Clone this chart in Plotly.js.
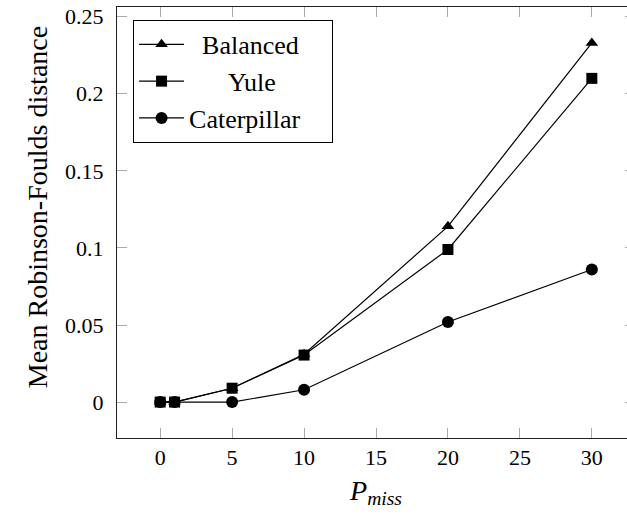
<!DOCTYPE html>
<html>
<head>
<meta charset="utf-8">
<script src="https://cdn.plot.ly/plotly-3.0.1.min.js"></script>
<style>
html, body { margin: 0; padding: 0; overflow: hidden; background: #fff; }
#chart { width: 645px; height: 520px; }
</style>
</head>
<body>
<div id="chart"></div>
<script>
var pMiss = [0, 1, 5, 10, 20, 30];
var balanced = [0, 0, 0.009, 0.031, 0.114, 0.233];
var yule = [0, 0, 0.009, 0.0305, 0.099, 0.21];
var caterpillar = [0, 0, 0, 0.008, 0.052, 0.086];

var xTickVals = [0, 5, 10, 15, 20, 25, 30];
var yTickVals = [0, 0.05, 0.1, 0.15, 0.2, 0.25];
var yTickText = ['0', '0.05', '0.1', '0.15', '0.2', '0.25'];

var NB = '\u00a0';
function pad(n) { return new Array(n + 1).join(NB); }

var lineStyle = { color: '#000', width: 1.2 };
var traces = [
  { x: pMiss, y: balanced, name: pad(2) + 'Balanced', mode: 'lines+markers', line: lineStyle,
    marker: { symbol: 'triangle-up', size: 11, color: '#000' } },
  { x: pMiss, y: yule, name: pad(6) + 'Yule', mode: 'lines+markers', line: lineStyle,
    marker: { symbol: 'square', size: 11, color: '#000' } },
  { x: pMiss, y: caterpillar, name: 'Caterpillar' + pad(4), mode: 'lines+markers', line: lineStyle,
    marker: { symbol: 'circle', size: 12, color: '#000' } }
];

var fam = 'Liberation Serif, serif';
function f(sz) { return { family: fam, size: sz, color: '#000' }; }

var layout = {
  width: 645, height: 520,
  margin: { l: 117, r: 10, t: 7, b: 82 },
  paper_bgcolor: '#fff', plot_bgcolor: '#fff',
  font: f(22),
  showlegend: true,
  legend: {
    x: 0.031, y: 0.97, xanchor: 'left', yanchor: 'top',
    bordercolor: '#000', borderwidth: 1, bgcolor: '#fff',
    font: f(26),
    itemwidth: 45, tracegroupgap: 0
  },
  xaxis: {
    range: [-3, 33], tickvals: xTickVals, ticks: 'inside', ticklen: 10,
    tickcolor: '#aaa', tickwidth: 1, showline: true, linecolor: '#222', linewidth: 1,
    mirror: 'ticks', showgrid: false, zeroline: false, ticklabelstandoff: 0,
    tickfont: f(22),
    title: { text: '<i>P</i><sub><i>miss</i></sub>', font: f(28), standoff: 10 }
  },
  yaxis: {
    range: [-0.0233, 0.2563], tickvals: yTickVals, ticktext: yTickText, ticks: 'inside', ticklen: 10,
    tickcolor: '#aaa', tickwidth: 1, showline: true, linecolor: '#222', linewidth: 1,
    mirror: 'ticks', showgrid: false, zeroline: false, ticklabelstandoff: 8,
    tickfont: f(22)
  },
  annotations: [{
    text: 'Mean Robinson-Foulds distance', textangle: -90, showarrow: false,
    xref: 'paper', yref: 'paper', x: -0.152, y: 0.536,
    xanchor: 'center', yanchor: 'middle', font: f(28)
  }]
};

Plotly.newPlot('chart', traces, layout, { displayModeBar: false, staticPlot: true });
</script>
</body>
</html>
